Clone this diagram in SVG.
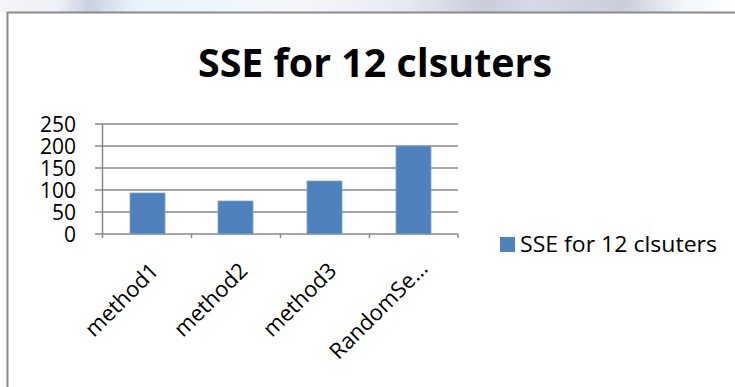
<svg xmlns="http://www.w3.org/2000/svg" width="735" height="387" viewBox="0 0 735 387">
  <defs>
    <linearGradient id="strip" x1="0" y1="0" x2="1" y2="0">
      <stop offset="0" stop-color="#f4f5f8"/>
      <stop offset="0.08" stop-color="#eef0f5"/>
      <stop offset="0.12" stop-color="#cbcfe2"/>
      <stop offset="0.18" stop-color="#e6f2f9"/>
      <stop offset="0.28" stop-color="#eef6fb"/>
      <stop offset="0.42" stop-color="#f5f6fa"/>
      <stop offset="0.55" stop-color="#e8eaf2"/>
      <stop offset="0.66" stop-color="#c9ccd9"/>
      <stop offset="0.72" stop-color="#d5d8e6"/>
      <stop offset="0.85" stop-color="#cbced9"/>
      <stop offset="0.93" stop-color="#f2f7fb"/>
      <stop offset="1" stop-color="#ffffff"/>
    </linearGradient>
    <style>
      .grid { stroke: #888888; stroke-width: 1.5; fill: none; }
      .bar { fill: #4f81bd; stroke: #7ea3d0; stroke-width: 0.8; }
      .ylab { font-family: "Open Sans", "Liberation Sans", sans-serif; font-size: 21px; fill: #000; text-anchor: end; }
      .xlab { font-family: "Open Sans", "Liberation Sans", sans-serif; font-size: 22px; fill: #000; text-anchor: end; }
      .title { font-family: "Open Sans", "Liberation Sans", sans-serif; font-size: 40px; font-weight: bold; fill: #000; }
      .leg { font-family: "Open Sans", "Liberation Sans", sans-serif; font-size: 22px; fill: #000; }
    </style>
  </defs>

  <!-- page background -->
  <rect x="0" y="0" width="735" height="387" fill="#ffffff"/>
  <rect x="0" y="0" width="735" height="12" fill="url(#strip)"/>

  <!-- chart frame -->
  <g id="frame">
    <rect x="7" y="12" width="740" height="390" fill="#ffffff"/>
    <path d="M7.5 387 V12.5 H735" fill="none" stroke="#8a8a8a" stroke-width="2"/>
  </g>

  <g id="title">
    <text class="title" x="198" y="77" textLength="354" lengthAdjust="spacingAndGlyphs">SSE for 12 clsuters</text>
  </g>

  <!-- gridlines and axes -->
  <g id="axes">
    <path class="grid" d="M95 124 H458 M95 146 H458 M95 168 H458 M95 190 H458 M95 212 H458 M95 234 H458"/>
    <path class="grid" d="M102.5 124 V238 M191.5 234 V238 M280.5 234 V238 M369.5 234 V238 M458 234 V238"/>
  </g>

  <g id="ylabels">
    <text class="ylab" x="76" y="131.5">250</text>
    <text class="ylab" x="76" y="153.5">200</text>
    <text class="ylab" x="76" y="175.5">150</text>
    <text class="ylab" x="76" y="197.5">100</text>
    <text class="ylab" x="76" y="219.5">50</text>
    <text class="ylab" x="76" y="241.5">0</text>
  </g>

  <g id="bars">
    <rect class="bar" x="130" y="193" width="35" height="41"/>
    <rect class="bar" x="218" y="201" width="35" height="33"/>
    <rect class="bar" x="307" y="181" width="35" height="53"/>
    <rect class="bar" x="396" y="146" width="35" height="88"/>
  </g>

  <g id="xlabels">
    <text class="xlab" transform="translate(160 272) rotate(-45)">method1</text>
    <text class="xlab" transform="translate(249 272) rotate(-45)">method2</text>
    <text class="xlab" transform="translate(338 272) rotate(-45)">method3</text>
    <text class="xlab" transform="translate(429 270) rotate(-45)">RandomSe…</text>
  </g>

  <g id="legend">
    <rect x="500" y="237" width="15" height="15" fill="#4f81bd"/>
    <text class="leg" x="520" y="252" textLength="197" lengthAdjust="spacingAndGlyphs">SSE for 12 clsuters</text>
  </g>
</svg>
